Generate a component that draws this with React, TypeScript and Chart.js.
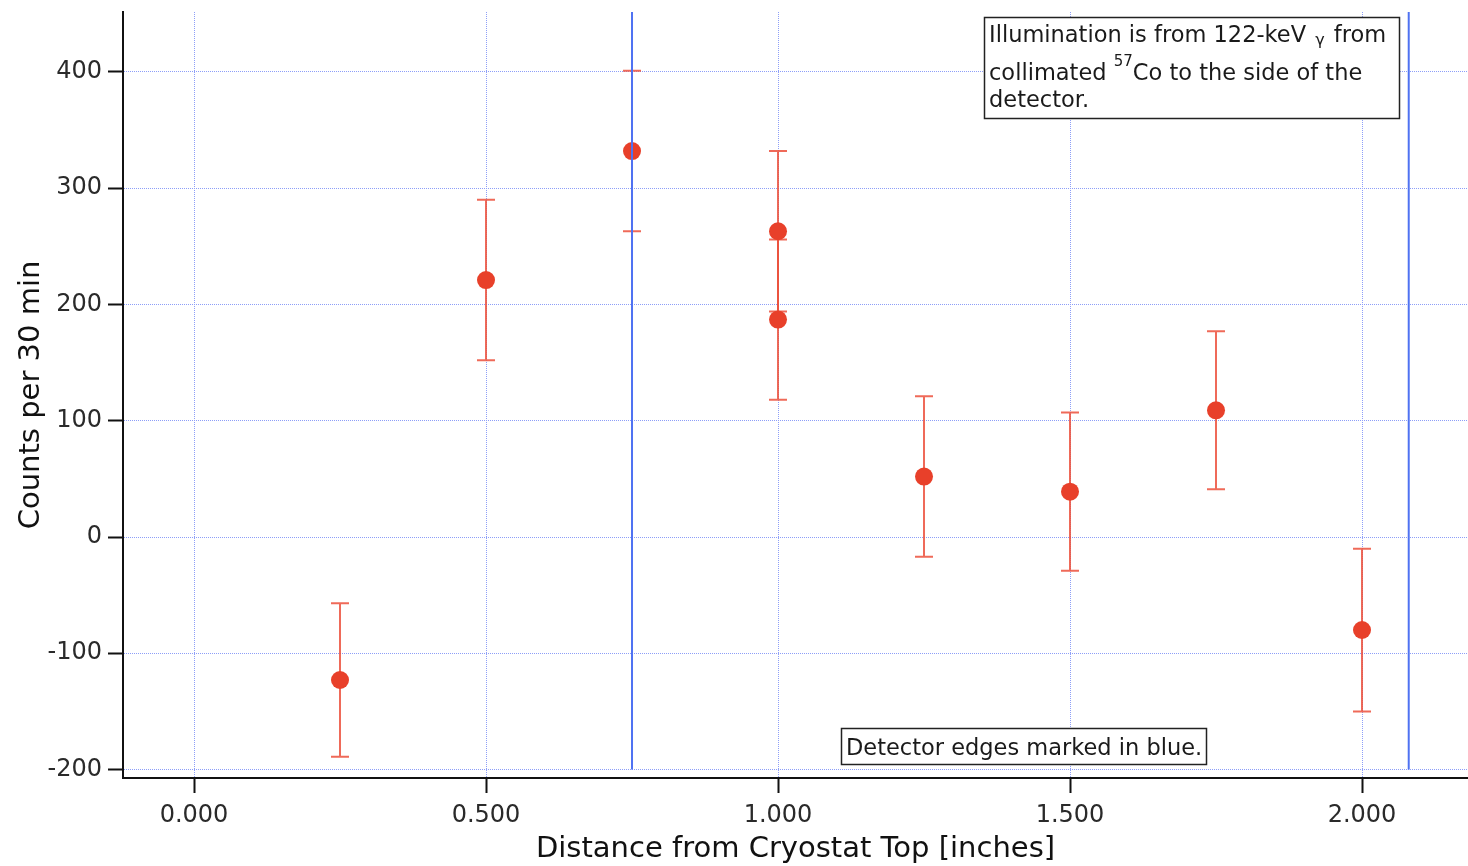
import React, { useEffect, useRef } from "react";
import { Chart, registerables } from "chart.js";

Chart.register(...registerables);

// ---- data ----
const xPositions = [0.25, 0.5, 0.75, 1.0, 1.0, 1.25, 1.5, 1.75, 2.0];
const counts = [-123, 221, 332, 263, 187, 52, 39, 109, -80];
const countErrors = [66, 69, 69, 69, 69, 69, 68, 68, 70];
const detectorEdges = [0.75, 2.08];
const xTickValues = [0, 0.5, 1, 1.5, 2];
const xTickLabels = ["0.000", "0.500", "1.000", "1.500", "2.000"];
const yTickValues = [-200, -100, 0, 100, 200, 300, 400];
const yTickLabels = ["-200", "-100", "0", "100", "200", "300", "400"];
const xRange = [-0.1216, 2.1815];
const yRange = [-207.3, 451.6];
const edgeLineBottom = -200;

const xTitle = "Distance from Cryostat Top [inches]";
const yTitle = "Counts per 30 min";
const noteEdges = "Detector edges marked in blue.";

const FONT = "'DejaVu Sans', sans-serif";
const RED = "#e8402a";
const BLUE = "#4f72f2";
const GRID = "#8d9ef8";

const errorBarPlugin = {
  id: "errorBars",
  beforeDatasetsDraw(chart: any) {
    const { ctx, scales } = chart;
    const xs = scales.x;
    const ys = scales.y;
    ctx.save();
    ctx.strokeStyle = "rgba(236,80,60,0.85)";
    ctx.lineWidth = 2;
    const cap = 9;
    xPositions.forEach((xv, i) => {
      const px = Math.round(xs.getPixelForValue(xv));
      const top = ys.getPixelForValue(counts[i] + countErrors[i]);
      const bot = ys.getPixelForValue(counts[i] - countErrors[i]);
      ctx.beginPath();
      ctx.moveTo(px, top);
      ctx.lineTo(px, bot);
      ctx.moveTo(px - cap, top);
      ctx.lineTo(px + cap, top);
      ctx.moveTo(px - cap, bot);
      ctx.lineTo(px + cap, bot);
      ctx.stroke();
    });
    ctx.restore();
  },
};

const notesPlugin = {
  id: "notes",
  afterDraw(chart: any) {
    const { ctx, chartArea } = chart;
    const ox = chartArea.left;
    const oy = chartArea.top;
    ctx.save();
    ctx.strokeStyle = "#222";
    ctx.lineWidth = 1.5;
    ctx.textBaseline = "alphabetic";
    ctx.textAlign = "left";

    // Box 1
    ctx.fillStyle = "#fff";
    ctx.fillRect(ox + 861, oy + 5, 415, 101);
    ctx.strokeRect(ox + 861.5, oy + 5.5, 415, 101);
    ctx.fillStyle = "#1a1a1a";
    const big = `22.5px ${FONT}`;
    let x = ox + 866;
    // line 1
    ctx.font = big;
    let s = "Illumination is from 122-keV ";
    ctx.fillText(s, x, oy + 30);
    x += ctx.measureText(s).width + 2;
    ctx.font = `16px ${FONT}`;
    ctx.fillText("\u03b3", x, oy + 33);
    x += ctx.measureText("\u03b3").width + 2;
    ctx.font = big;
    ctx.fillText(" from", x, oy + 30);
    // line 2
    x = ox + 866;
    s = "collimated ";
    ctx.fillText(s, x, oy + 68);
    x += ctx.measureText(s).width;
    ctx.font = `15px ${FONT}`;
    ctx.fillText("57", x, oy + 54);
    x += ctx.measureText("57").width;
    ctx.font = big;
    ctx.fillText("Co to the side of the", x, oy + 68);
    // line 3
    ctx.fillText("detector.", ox + 866, oy + 95);

    // Box 2
    ctx.fillStyle = "#fff";
    ctx.fillRect(ox + 718, oy + 716, 365, 36);
    ctx.strokeRect(ox + 718.5, oy + 716.5, 365, 36);
    ctx.fillStyle = "#1a1a1a";
    ctx.font = big;
    ctx.fillText(noteEdges, ox + 723, oy + 743);
    ctx.restore();
  },
};

export default function App() {
  const ref = useRef<HTMLCanvasElement | null>(null);
  useEffect(() => {
    if (!ref.current) return;
    const chart = new Chart(ref.current, {
      type: "scatter",
      data: {
        datasets: [
          ...detectorEdges.map((e) => ({
            type: "line" as const,
            data: [
              { x: e, y: edgeLineBottom },
              { x: e, y: yRange[1] },
            ],
            borderColor: BLUE,
            borderWidth: 2,
            pointRadius: 0,
            fill: false,
          })),
          {
            type: "scatter" as const,
            data: xPositions.map((xv, i) => ({ x: xv, y: counts[i] })),
            backgroundColor: RED,
            borderColor: RED,
            pointRadius: 9,
            pointHoverRadius: 9,
            borderWidth: 0,
          },
        ],
      },
      options: {
        animation: false,
        responsive: true,
        maintainAspectRatio: false,
        layout: { autoPadding: false, padding: { top: 12, right: 0, left: 0, bottom: 0 } },
        plugins: { legend: { display: false }, tooltip: { enabled: false } },
        scales: {
          x: {
            type: "linear",
            min: xRange[0],
            max: xRange[1],
            afterBuildTicks: (scale: any) => {
              scale.ticks = xTickValues.map((v) => ({ value: v }));
            },
            afterFit: (scale: any) => {
              scale.height = 88;
              scale.paddingLeft = 0;
              scale.paddingRight = 0;
            },
            ticks: {
              callback: (v: any) => {
                const i = xTickValues.indexOf(Number(v));
                return i >= 0 ? xTickLabels[i] : "";
              },
              font: { family: FONT, size: 24 },
              color: "#2a2a2a",
              padding: 8,
              maxRotation: 0,
              autoSkip: false,
            },
            grid: {
              color: GRID,
              lineWidth: 1,
              tickColor: "#111",
              tickLength: 15,
              tickWidth: 2,
            },
            border: { display: true, color: "#111", width: 2, dash: [1, 1] },
            title: {
              display: true,
              text: xTitle,
              font: { family: FONT, size: 29, lineHeight: 1.1 },
              color: "#111",
              padding: { top: 0, bottom: 1 },
            },
          },
          y: {
            type: "linear",
            min: yRange[0],
            max: yRange[1],
            afterBuildTicks: (scale: any) => {
              scale.ticks = yTickValues.map((v) => ({ value: v }));
            },
            afterFit: (scale: any) => {
              scale.width = 123;
              scale.paddingTop = 0;
              scale.paddingBottom = 0;
            },
            ticks: {
              callback: (v: any) => {
                const i = yTickValues.indexOf(Number(v));
                return i >= 0 ? yTickLabels[i] : "";
              },
              font: { family: FONT, size: 24 },
              color: "#2a2a2a",
              padding: 6,
              autoSkip: false,
            },
            grid: {
              color: GRID,
              lineWidth: 1,
              tickColor: "#111",
              tickLength: 15,
              tickWidth: 2,
            },
            border: { display: true, color: "#111", width: 2, dash: [1, 1] },
            title: {
              display: true,
              text: yTitle,
              font: { family: FONT, size: 29, lineHeight: 1.1 },
              color: "#111",
              padding: { top: 16, bottom: 0 },
            },
          },
        },
      },
      plugins: [errorBarPlugin, notesPlugin],
    });
    return () => chart.destroy();
  }, []);

  return (
    <div style={{ position: "absolute", left: 0, top: 0, width: 1468, height: 866, background: "#fff" }}>
      <canvas ref={ref} />
    </div>
  );
}
